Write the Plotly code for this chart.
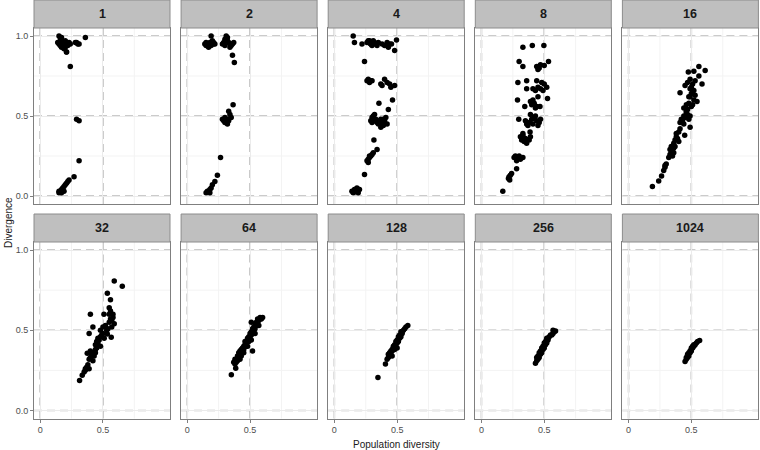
import plotly.graph_objs as go
from plotly.subplots import make_subplots

# ==========================
# DATA
# ==========================
panel_labels = ["1", "2", "4", "8", "16", "32", "64", "128", "256", "1024"]

x_1 = [0.15, 0.16, 0.17, 0.14, 0.15, 0.16, 0.18, 0.19, 0.20, 0.21, 0.22, 0.23, 0.17, 0.18, 0.19, 0.20, 0.16, 0.22,
       0.24, 0.21, 0.28, 0.29, 0.30, 0.31, 0.36, 0.21, 0.24, 0.29, 0.31, 0.31, 0.27, 0.23, 0.22, 0.21, 0.20, 0.19,
       0.18, 0.17, 0.16, 0.15, 0.15, 0.17, 0.19]
y_1 = [1.00, 0.99, 0.99, 0.96, 0.95, 0.94, 0.96, 0.95, 0.97, 0.96, 0.95, 0.96, 0.93, 0.94, 0.92, 0.93, 0.97, 0.94,
       0.95, 0.90, 0.96, 0.96, 0.95, 0.95, 0.99, 0.90, 0.81, 0.48, 0.47, 0.22, 0.12, 0.10, 0.09, 0.08, 0.07, 0.06,
       0.05, 0.04, 0.03, 0.03, 0.02, 0.02, 0.03]

x_2 = [0.19, 0.14, 0.15, 0.16, 0.17, 0.18, 0.19, 0.20, 0.21, 0.22, 0.15, 0.17, 0.19, 0.21, 0.31, 0.28, 0.29, 0.30,
       0.32, 0.33, 0.34, 0.35, 0.37, 0.30, 0.32, 0.34, 0.36, 0.36, 0.375, 0.365, 0.33, 0.34, 0.28, 0.29, 0.30, 0.31,
       0.32, 0.33, 0.35, 0.30, 0.32, 0.265, 0.24, 0.22, 0.20, 0.19, 0.18, 0.17, 0.16, 0.15, 0.18]
y_2 = [1.00, 0.95, 0.96, 0.94, 0.95, 0.96, 0.95, 0.97, 0.96, 0.95, 0.94, 0.93, 0.94, 0.95, 1.00, 0.95, 0.96, 0.94,
       0.97, 0.96, 0.95, 0.94, 0.96, 0.98, 0.99, 0.93, 0.95, 0.88, 0.835, 0.57, 0.53, 0.51, 0.48, 0.47, 0.49, 0.46,
       0.48, 0.47, 0.49, 0.46, 0.45, 0.24, 0.13, 0.09, 0.07, 0.05, 0.04, 0.03, 0.03, 0.02, 0.02]

x_4 = [0.15, 0.16, 0.22, 0.26, 0.27, 0.28, 0.29, 0.30, 0.31, 0.32, 0.33, 0.34, 0.35, 0.38, 0.40, 0.42, 0.43, 0.44,
       0.455, 0.495, 0.48, 0.28, 0.29, 0.30, 0.24, 0.26, 0.27, 0.28, 0.29, 0.30, 0.37, 0.38, 0.40, 0.42, 0.44, 0.45,
       0.48, 0.355, 0.463, 0.43, 0.29, 0.30, 0.31, 0.32, 0.33, 0.34, 0.30, 0.32, 0.35, 0.36, 0.37, 0.38, 0.39, 0.40,
       0.41, 0.42, 0.37, 0.39, 0.315, 0.34, 0.26, 0.27, 0.28, 0.29, 0.30, 0.31, 0.28, 0.27, 0.24, 0.14, 0.15, 0.16,
       0.17, 0.18, 0.19, 0.20, 0.16, 0.18]
y_4 = [1.00, 0.96, 0.95, 0.96, 0.97, 0.96, 0.95, 0.94, 0.97, 0.96, 0.95, 0.94, 0.96, 0.95, 0.94, 0.96, 0.93, 0.95,
       0.95, 0.975, 0.91, 0.97, 0.95, 0.96, 0.84, 0.72, 0.73, 0.71, 0.72, 0.72, 0.70, 0.69, 0.73, 0.71, 0.70, 0.68,
       0.69, 0.58, 0.60, 0.54, 0.47, 0.49, 0.50, 0.51, 0.48, 0.46, 0.46, 0.47, 0.45, 0.47, 0.48, 0.46, 0.44, 0.47,
       0.49, 0.45, 0.43, 0.48, 0.35, 0.29, 0.22, 0.23, 0.24, 0.25, 0.26, 0.27, 0.25, 0.21, 0.135, 0.03, 0.02, 0.04,
       0.03, 0.05, 0.02, 0.04, 0.025, 0.035]

x_8 = [0.33, 0.405, 0.497, 0.30, 0.33, 0.44, 0.45, 0.46, 0.47, 0.50, 0.534, 0.29, 0.36, 0.44, 0.48, 0.41, 0.43, 0.45,
       0.47, 0.52, 0.49, 0.36, 0.50, 0.287, 0.39, 0.40, 0.41, 0.42, 0.44, 0.345, 0.466, 0.526, 0.45, 0.43, 0.297,
       0.35, 0.36, 0.38, 0.40, 0.42, 0.44, 0.46, 0.47, 0.37, 0.41, 0.45, 0.43, 0.39, 0.387, 0.31, 0.32, 0.33, 0.34,
       0.35, 0.36, 0.38, 0.39, 0.33, 0.26, 0.27, 0.28, 0.29, 0.30, 0.31, 0.33, 0.28, 0.28, 0.215, 0.22, 0.23, 0.24,
       0.225, 0.17]
y_8 = [0.93, 0.94, 0.94, 0.84, 0.81, 0.81, 0.79, 0.80, 0.82, 0.815, 0.84, 0.71, 0.72, 0.72, 0.71, 0.67, 0.66, 0.68,
       0.67, 0.68, 0.66, 0.67, 0.70, 0.60, 0.59, 0.57, 0.60, 0.58, 0.56, 0.56, 0.56, 0.61, 0.62, 0.55, 0.48, 0.47,
       0.45, 0.46, 0.48, 0.49, 0.47, 0.46, 0.48, 0.44, 0.45, 0.44, 0.50, 0.51, 0.40, 0.37, 0.35, 0.38, 0.34, 0.36,
       0.33, 0.35, 0.37, 0.39, 0.24, 0.25, 0.23, 0.24, 0.25, 0.23, 0.24, 0.22, 0.17, 0.11, 0.12, 0.13, 0.14, 0.10,
       0.03]

x_16 = [0.19, 0.24, 0.263, 0.28, 0.29, 0.30, 0.29, 0.32, 0.33, 0.34, 0.35, 0.36, 0.37, 0.33, 0.35, 0.34, 0.36, 0.36,
        0.37, 0.38, 0.39, 0.40, 0.41, 0.38, 0.40, 0.447, 0.49, 0.41, 0.42, 0.43, 0.44, 0.45, 0.46, 0.47, 0.48, 0.49,
        0.44, 0.46, 0.44, 0.46, 0.48, 0.50, 0.52, 0.545, 0.47, 0.51, 0.49, 0.41, 0.48, 0.50, 0.52, 0.53, 0.49, 0.45,
        0.47, 0.49, 0.51, 0.53, 0.50, 0.476, 0.52, 0.56, 0.61, 0.56, 0.585]
y_16 = [0.06, 0.094, 0.125, 0.16, 0.18, 0.20, 0.19, 0.24, 0.26, 0.27, 0.28, 0.30, 0.31, 0.29, 0.25, 0.31, 0.27, 0.33,
        0.35, 0.37, 0.36, 0.40, 0.42, 0.39, 0.34, 0.38, 0.43, 0.46, 0.48, 0.47, 0.50, 0.49, 0.52, 0.51, 0.48, 0.50,
        0.45, 0.53, 0.55, 0.57, 0.58, 0.56, 0.60, 0.59, 0.54, 0.57, 0.62, 0.646, 0.62, 0.64, 0.66, 0.63, 0.67, 0.69,
        0.71, 0.73, 0.70, 0.72, 0.68, 0.775, 0.78, 0.81, 0.785, 0.75, 0.70]

x_32 = [0.314, 0.335, 0.35, 0.36, 0.37, 0.38, 0.39, 0.36, 0.375, 0.39, 0.40, 0.41, 0.42, 0.43, 0.44, 0.45, 0.455,
        0.40, 0.42, 0.44, 0.40, 0.42, 0.39, 0.44, 0.45, 0.46, 0.47, 0.48, 0.49, 0.50, 0.51, 0.46, 0.48, 0.48, 0.50,
        0.52, 0.54, 0.55, 0.56, 0.57, 0.58, 0.59, 0.53, 0.55, 0.57, 0.535, 0.56, 0.59, 0.654, 0.566, 0.535, 0.508,
        0.55, 0.56, 0.58]
y_32 = [0.187, 0.22, 0.24, 0.26, 0.27, 0.285, 0.26, 0.25, 0.357, 0.32, 0.33, 0.35, 0.36, 0.34, 0.38, 0.39, 0.40,
        0.37, 0.31, 0.36, 0.60, 0.52, 0.48, 0.41, 0.43, 0.45, 0.44, 0.46, 0.47, 0.48, 0.45, 0.42, 0.40, 0.50, 0.52,
        0.53, 0.51, 0.55, 0.57, 0.56, 0.58, 0.54, 0.50, 0.60, 0.52, 0.73, 0.69, 0.807, 0.774, 0.456, 0.477, 0.60,
        0.64, 0.62, 0.60]

x_64 = [0.351, 0.386, 0.37, 0.38, 0.39, 0.40, 0.38, 0.39, 0.40, 0.41, 0.42, 0.43, 0.41, 0.42, 0.43, 0.44, 0.45,
        0.44, 0.45, 0.46, 0.47, 0.46, 0.47, 0.48, 0.49, 0.48, 0.49, 0.50, 0.51, 0.50, 0.51, 0.52, 0.53, 0.52, 0.53,
        0.54, 0.55, 0.54, 0.55, 0.56, 0.57, 0.56, 0.58, 0.59, 0.60, 0.51, 0.52, 0.42, 0.45, 0.48, 0.51, 0.54, 0.57]
y_64 = [0.222, 0.263, 0.30, 0.29, 0.32, 0.31, 0.32, 0.30, 0.34, 0.33, 0.35, 0.34, 0.36, 0.37, 0.38, 0.36, 0.38,
        0.39, 0.40, 0.41, 0.40, 0.43, 0.42, 0.44, 0.43, 0.45, 0.46, 0.45, 0.47, 0.48, 0.49, 0.48, 0.50, 0.51, 0.52,
        0.51, 0.53, 0.54, 0.55, 0.54, 0.56, 0.57, 0.58, 0.57, 0.58, 0.55, 0.37, 0.32, 0.36, 0.40, 0.44, 0.48, 0.53]

x_128 = [0.347, 0.407, 0.42, 0.43, 0.44, 0.43, 0.44, 0.45, 0.46, 0.45, 0.46, 0.47, 0.48, 0.47, 0.48, 0.49, 0.50,
         0.49, 0.50, 0.51, 0.52, 0.51, 0.52, 0.53, 0.54, 0.53, 0.54, 0.55, 0.56, 0.57, 0.585, 0.46, 0.50]
y_128 = [0.205, 0.29, 0.32, 0.33, 0.34, 0.35, 0.36, 0.35, 0.37, 0.37, 0.38, 0.39, 0.38, 0.40, 0.41, 0.40, 0.42,
         0.43, 0.44, 0.43, 0.45, 0.46, 0.47, 0.46, 0.48, 0.49, 0.49, 0.50, 0.51, 0.52, 0.53, 0.34, 0.39]

x_256 = [0.43, 0.44, 0.45, 0.44, 0.45, 0.46, 0.47, 0.46, 0.47, 0.48, 0.49, 0.48, 0.49, 0.50, 0.51, 0.50, 0.51,
         0.52, 0.53, 0.52, 0.53, 0.54, 0.55, 0.56, 0.57, 0.58, 0.59, 0.57]
y_256 = [0.295, 0.31, 0.32, 0.33, 0.34, 0.33, 0.35, 0.36, 0.37, 0.36, 0.38, 0.39, 0.40, 0.39, 0.41, 0.42, 0.43,
         0.42, 0.44, 0.45, 0.45, 0.46, 0.47, 0.47, 0.48, 0.49, 0.496, 0.50]

x_1024 = [0.45, 0.46, 0.46, 0.47, 0.47, 0.48, 0.48, 0.49, 0.49, 0.50, 0.50, 0.51, 0.51, 0.52, 0.52, 0.53, 0.54,
          0.55, 0.566, 0.47, 0.50]
y_1024 = [0.305, 0.32, 0.33, 0.33, 0.35, 0.34, 0.36, 0.36, 0.37, 0.38, 0.37, 0.39, 0.40, 0.40, 0.41, 0.41, 0.42,
          0.43, 0.436, 0.34, 0.39]

panels = [(x_1, y_1), (x_2, y_2), (x_4, y_4), (x_8, y_8), (x_16, y_16),
          (x_32, y_32), (x_64, y_64), (x_128, y_128), (x_256, y_256), (x_1024, y_1024)]

x_ticks = [0, 0.5]
x_tick_text = ["0", "0.5"]
y_ticks = [0, 0.5, 1.0]
y_tick_text = ["0.0", "0.5", "1.0"]
minor_ticks = [0.25, 0.75]
dashed_x = [0, 0.5]
dashed_y = [0, 0.5, 1.0]

# ==========================
# LAYOUT GEOMETRY (pixels)
# ==========================
W, H = 760, 450
FONT = "Liberation Sans, Arial, sans-serif"
panel_left = [34, 181.1, 328.2, 475.3, 622.4]
panel_w = 136
rows_px = [(28, 204), (242, 418.5)]     # plot area top/bottom
strips_px = [(0, 28), (214, 242)]

fig = make_subplots(rows=2, cols=5)

shapes = []
annotations = []
dash_line = dict(color="#BABABA", width=1.6, dash="8px,5px")

for i, (xs, ys) in enumerate(panels):
    r, c = i // 5, i % 5
    fig.add_trace(go.Scatter(x=xs, y=ys, mode="markers",
                             marker=dict(color="black", size=5.5, line=dict(width=0)),
                             showlegend=False, hoverinfo="skip"), row=r + 1, col=c + 1)

    n = "" if i == 0 else str(i + 1)
    xa, ya = "x" + n, "y" + n
    top, bot = rows_px[r]
    x0 = panel_left[c] / W
    x1 = (panel_left[c] + panel_w) / W
    fig.layout["xaxis" + n].update(
        domain=[x0, x1], range=[-0.049, 1.034],
        tickvals=x_ticks, ticktext=x_tick_text,
        showticklabels=(r == 1), ticks="outside" if r == 1 else "",
        ticklen=3, tickcolor="#7F7F7F",
        tickfont=dict(family=FONT, size=9, color="#4D4D4D"),
        showgrid=True, gridcolor="#EBEBEB", gridwidth=1, zeroline=False,
        showline=True, mirror=True, linecolor="#7F7F7F", linewidth=1,
    )
    fig.layout["yaxis" + n].update(
        domain=[1 - bot / H, 1 - top / H], range=[-0.05, 1.05],
        tickvals=y_ticks, ticktext=y_tick_text,
        showticklabels=(c == 0), ticks="outside" if c == 0 else "",
        ticklen=3, tickcolor="#7F7F7F",
        tickfont=dict(family=FONT, size=9, color="#4D4D4D"),
        showgrid=True, gridcolor="#EBEBEB", gridwidth=1, zeroline=False,
        showline=True, mirror=True, linecolor="#7F7F7F", linewidth=1,
    )

    # minor grid
    for m in minor_ticks:
        shapes.append(dict(type="line", xref=xa, yref=ya + " domain", x0=m, x1=m, y0=0, y1=1,
                           line=dict(color="#F3F3F3", width=1), layer="below"))
        shapes.append(dict(type="line", xref=xa + " domain", yref=ya, x0=0, x1=1, y0=m, y1=m,
                           line=dict(color="#F3F3F3", width=1), layer="below"))
    # dashed reference lines
    for v in dashed_x:
        shapes.append(dict(type="line", xref=xa, yref=ya + " domain", x0=v, x1=v, y0=0, y1=1,
                           line=dash_line, layer="below"))
    for h in dashed_y:
        shapes.append(dict(type="line", xref=xa + " domain", yref=ya, x0=0, x1=1, y0=h, y1=h,
                           line=dash_line, layer="below"))

    # facet strip
    s0, s1 = strips_px[r]
    shapes.append(dict(type="rect", xref="paper", yref="paper",
                       x0=x0, x1=x1, y0=1 - s1 / H, y1=1 - s0 / H,
                       fillcolor="#BFBFBF", line=dict(color="#8C8C8C", width=1), layer="above"))
    annotations.append(dict(text="<b>%s</b>" % panel_labels[i], xref="paper", yref="paper",
                            x=(x0 + x1) / 2, y=1 - (s0 + s1) / 2 / H, showarrow=False,
                            xanchor="center", yanchor="middle",
                            font=dict(family=FONT, size=12.5, color="#1A1A1A")))

annotations.append(dict(text="Population diversity", xref="paper", yref="paper",
                        x=(34 + 622.4 + panel_w) / 2 / W, y=1 - 444 / H, showarrow=False,
                        xanchor="center", yanchor="middle",
                        font=dict(family=FONT, size=10, color="#1A1A1A")))
annotations.append(dict(text="Divergence", xref="paper", yref="paper",
                        x=8 / W, y=1 - 223 / H, showarrow=False, textangle=-90,
                        xanchor="center", yanchor="middle",
                        font=dict(family=FONT, size=10, color="#1A1A1A")))

fig.update_layout(width=W, height=H, margin=dict(l=0, r=0, t=0, b=0),
                  plot_bgcolor="white", paper_bgcolor="white",
                  shapes=shapes, annotations=annotations)

# page body has a default 8px margin; drop it so the figure fills the window
fig.write_html("out.html", config={"displayModeBar": False},
               post_script="document.body.style.margin='0px';")
